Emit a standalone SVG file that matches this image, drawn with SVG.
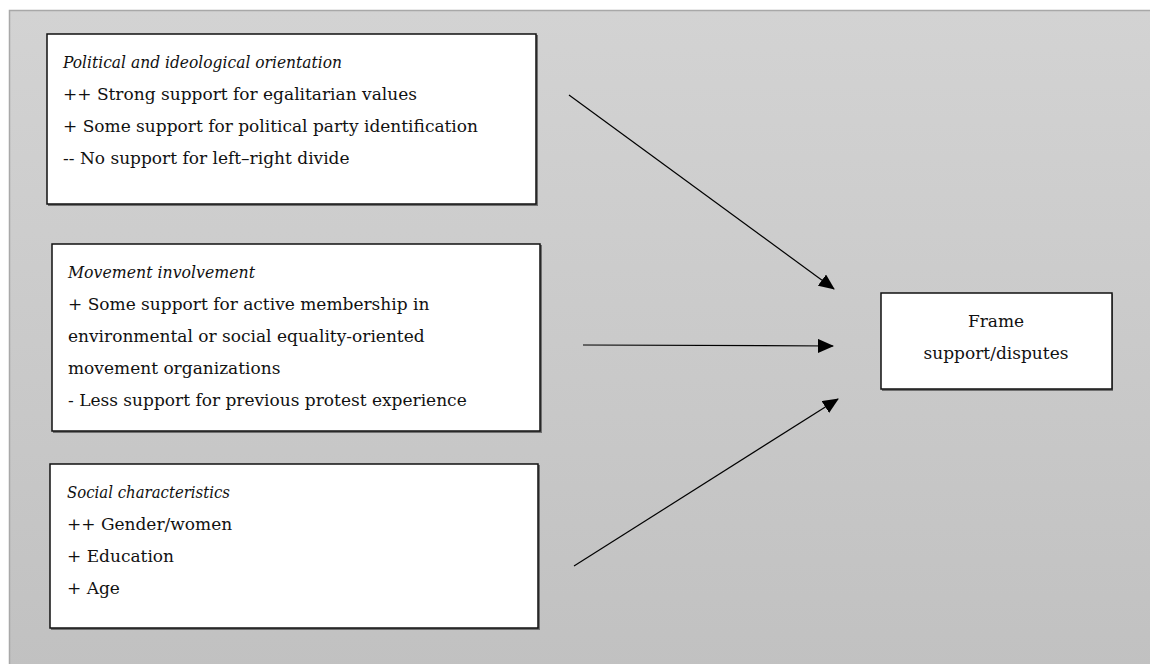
<svg xmlns="http://www.w3.org/2000/svg" width="1150" height="664" viewBox="0 0 1150 664">
<defs>
<linearGradient id="bg" x1="0" y1="0" x2="0" y2="1">
<stop offset="0" stop-color="#d3d3d3"/>
<stop offset="1" stop-color="#c1c1c1"/>
</linearGradient>
<marker id="arr" markerWidth="16" markerHeight="14" refX="15" refY="7" orient="auto" markerUnits="userSpaceOnUse">
<path d="M0,0 L16,7 L0,14 Z" fill="#000"/>
</marker>
<style>
.box{fill:#fff;stroke:#111;stroke-width:1.5}
.sh{fill:#707070}
text{font-family:"DejaVu Serif","Liberation Serif",serif;font-size:17px;fill:#111}
.it{font-style:italic;font-size:16.5px}
.c{text-anchor:middle}
.con{stroke:#000;stroke-width:1.2;fill:none;marker-end:url(#arr)}
</style>
</defs>
<rect x="0" y="0" width="1150" height="664" fill="#fff"/>
<rect x="9.5" y="10.5" width="1145" height="660" fill="url(#bg)" stroke="#a8a8a8" stroke-width="1.5"/>
<g id="node-political">
<rect class="sh" x="48" y="35" width="490" height="171"/>
<rect class="box" x="47" y="34" width="489" height="170"/>
<text class="it" x="63" y="68" textLength="279" lengthAdjust="spacingAndGlyphs">Political and ideological orientation</text>
<text x="63" y="100">++ Strong support for egalitarian values</text>
<text x="63" y="132">+ Some support for political party identification</text>
<text x="63" y="164">-- No support for left–right divide</text>
</g>
<g id="node-movement">
<rect class="sh" x="53" y="245" width="489" height="188"/>
<rect class="box" x="52" y="244" width="488" height="187"/>
<text class="it" x="68" y="278" textLength="187" lengthAdjust="spacingAndGlyphs">Movement involvement</text>
<text x="68" y="310">+ Some support for active membership in</text>
<text x="68" y="342">environmental or social equality-oriented</text>
<text x="68" y="374">movement organizations</text>
<text x="68" y="406">- Less support for previous protest experience</text>
</g>
<g id="node-social">
<rect class="sh" x="51" y="465" width="489" height="165"/>
<rect class="box" x="50" y="464" width="488" height="164"/>
<text class="it" x="67" y="498" textLength="163" lengthAdjust="spacingAndGlyphs">Social characteristics</text>
<text x="67" y="530">++ Gender/women</text>
<text x="67" y="562">+ Education</text>
<text x="67" y="594">+ Age</text>
</g>
<g id="node-frame">
<rect class="sh" x="882" y="294" width="231" height="97"/>
<rect class="box" x="881" y="293" width="231" height="96"/>
<text class="c" x="996" y="327">Frame</text>
<text class="c" x="996" y="359">support/disputes</text>
</g>
<g id="connectors">
<line class="con" x1="569" y1="95" x2="834" y2="289"/>
<line class="con" x1="583" y1="345" x2="833" y2="346"/>
<line class="con" x1="574" y1="566" x2="838" y2="399"/>
</g>
</svg>
